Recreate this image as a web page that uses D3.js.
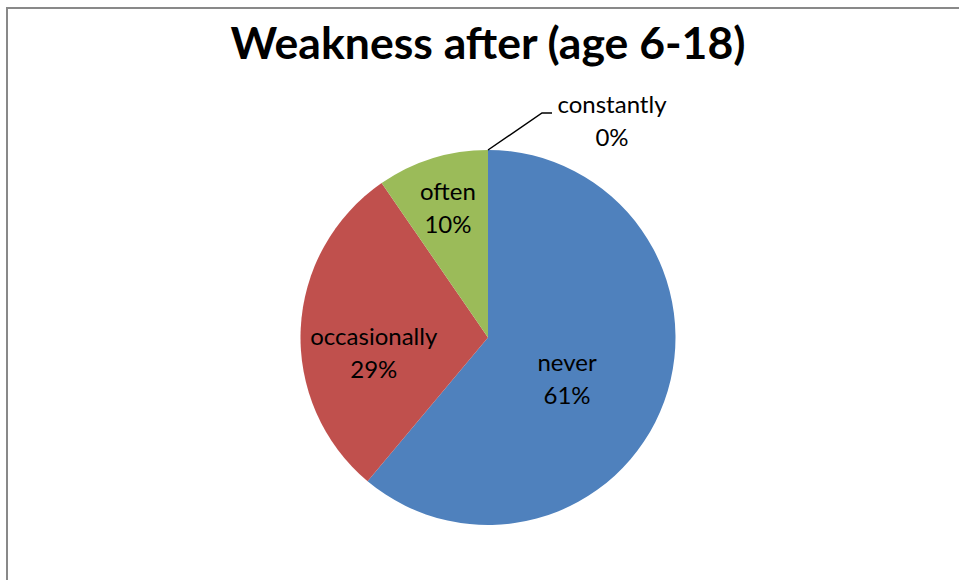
<!DOCTYPE html>
<html><head><meta charset="utf-8">
<script src="https://cdn.jsdelivr.net/npm/d3@7/dist/d3.min.js"></script>
<style>html,body{margin:0;padding:0;background:#fff;overflow:hidden}</style>
</head><body>
<svg id="c" width="959" height="580"></svg>
<script>
const title = "Weakness after (age 6-18)";
const categories = ["never", "occasionally", "often", "constantly"];
const values = [61.1, 29.3, 9.6, 0];
const pctLabels = ["61%", "29%", "10%", "0%"];
const colors = ["#4F81BD", "#C0504D", "#9BBB59", "#8064A2"];

const svg = d3.select("#c");
const W = 959, H = 580;
const cx = 488, cy = 337.5, R = 187.5;
const font = "Lato, 'Open Sans', sans-serif";

// chart border (extends past right/bottom edge)
svg.append("rect").attr("x", 7).attr("y", 8).attr("width", W + 10).attr("height", H + 10)
  .attr("fill", "#fff").attr("stroke", "#898989").attr("stroke-width", 2);

svg.append("text").attr("x", cx).attr("y", 59).attr("text-anchor", "middle")
  .attr("font-family", font).attr("font-weight", "bold").attr("font-size", 43)
  .attr("textLength", 515).attr("lengthAdjust", "spacingAndGlyphs")
  .attr("fill", "#000").text(title);

const pie = d3.pie().sort(null).value(d => d)(values);
const arc = d3.arc().innerRadius(0).outerRadius(R);
const g = svg.append("g").attr("transform", `translate(${cx},${cy})`);
g.selectAll("path").data(pie).enter().append("path")
  .attr("d", arc).attr("fill", (d, i) => colors[i]);

// label placement: radius fraction + small shift
const labelK = [0.46, 0.61, 0.72];
const labelShift = [[-2, 12], [0, 21], [0, -1]];
pie.slice(0, 3).forEach((d, i) => {
  const a = (d.startAngle + d.endAngle) / 2;
  const r = R * labelK[i];
  const x = r * Math.sin(a) + labelShift[i][0];
  const y = -r * Math.cos(a) + labelShift[i][1];
  const t = g.append("text").attr("text-anchor", "middle")
    .attr("font-family", font).attr("font-size", 24).attr("fill", "#000");
  t.append("tspan").attr("x", x).attr("y", y - 8).text(categories[i]);
  t.append("tspan").attr("x", x).attr("y", y + 25).text(pctLabels[i]);
});

// leader label for the zero slice
const z = pie[3];
const za = z.startAngle;
const p0 = [R * Math.sin(za), -R * Math.cos(za)];
const p1 = [p0[0] + 54, p0[1] - 37];
const p2 = [p1[0] + 10, p1[1]];
g.append("polyline").attr("points", [p0, p1, p2].map(p => p.join(",")).join(" "))
  .attr("fill", "none").attr("stroke", "#000").attr("stroke-width", 1.5);
const zt = g.append("text").attr("text-anchor", "middle")
  .attr("font-family", font).attr("font-size", 24).attr("fill", "#000");
zt.append("tspan").attr("x", p2[0] + 60).attr("y", p2[1]).text(categories[3]);
zt.append("tspan").attr("x", p2[0] + 60).attr("y", p2[1] + 33).text(pctLabels[3]);
</script>
</body></html>
